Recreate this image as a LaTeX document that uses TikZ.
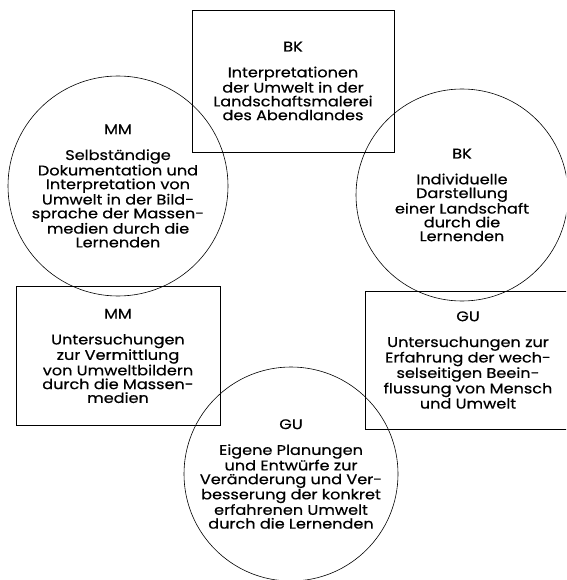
\documentclass[tikz,border=0pt]{standalone}
\usepackage{fontspec}
\setmainfont{Poppins}[FakeStretch=1.15,FakeBold=0.5]
\usetikzlibrary{positioning}
\newcommand\boxfont{\fontsize{14}{13.8}\selectfont}

\begin{document}
\begin{tikzpicture}[x=1pt,y=-1pt,
  box/.style={draw,line width=0.6pt,inner sep=0pt,align=center,font=\boxfont},
  ring/.style={draw,line width=0.6pt,circle,inner sep=0pt,align=center,font=\boxfont}]
  \useasboundingbox (0,0) rectangle (566,580);
  \clip (0,0) rectangle (566,580);
  \node[box,minimum width=202pt,minimum height=142pt] (bk1) at (293,81) {BK\\[12pt]Interpretationen\\der Umwelt in der\\Landschaftsmalerei\\des Abendlandes};
  \node[ring,minimum size=220pt] (mm1) at (118,186) {MM\\[12pt]Selbständige\\Dokumentation und\\Interpretation von\\Umwelt in der Bild-\\sprache der Massen-\\medien durch die\\Lernenden};
  \node[ring,minimum size=212pt] (bk2) at (462,195) {BK\\[12pt]Individuelle\\Darstellung\\einer Landschaft\\durch die\\Lernenden};
  \node[box,minimum width=204pt,minimum height=139pt] (mm2) at (118,356) {MM\\[12pt]Untersuchungen\\zur Vermittlung\\von Umweltbildern\\durch die Massen-\\medien};
  \node[box,minimum width=206pt,minimum height=138pt] (gu1) at (468,360) {GU\\[12pt]Untersuchungen zur\\Erfahrung der wech-\\selseitigen Beein-\\flussung von Mensch\\und Umwelt};
  \node[ring,minimum size=214pt] (gu2) at (291,474) {GU\\[12pt]Eigene Planungen\\und Entwürfe zur\\Veränderung und Ver-\\besserung der konkret\\erfahrenen Umwelt\\durch die Lernenden};
\end{tikzpicture}
\end{document}
